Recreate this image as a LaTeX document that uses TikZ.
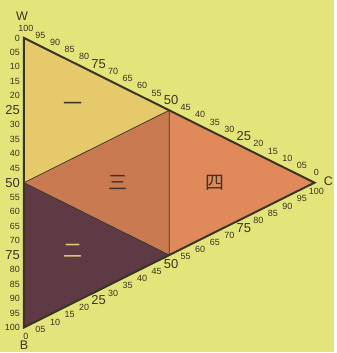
\documentclass[tikz,border=0pt]{standalone}
\usepackage{fontspec}
\setmainfont{Liberation Sans}
\newfontfamily\cjk{Noto Sans CJK SC}

\definecolor{bgyellow}{HTML}{E3E47A}
\definecolor{partone}{HTML}{E6C96A}
\definecolor{parttwo}{HTML}{5E3A45}
\definecolor{partthree}{HTML}{C97A50}
\definecolor{partfour}{HTML}{E08A5C}
\definecolor{linebrown}{HTML}{3B3324}
\definecolor{palelabel}{HTML}{E8C878}

\newcommand\ticklab[1]{%
  \ifnum#1=5 05\else
  \ifnum#1=25 {\fontsize{13}{13}\selectfont 25}\else
  \ifnum#1=50 {\fontsize{13}{13}\selectfont 50}\else
  \ifnum#1=75 {\fontsize{13}{13}\selectfont 75}\else
  #1\fi\fi\fi\fi}

\begin{document}
\begin{tikzpicture}[x=1pt,y=-1pt,
  edge/.style={draw=linebrown,line width=2pt},
  divide/.style={draw=linebrown,line width=0.7pt},
  tick/.style={font=\fontsize{9}{9}\selectfont,text=linebrown,inner sep=0pt},
  corner/.style={font=\fontsize{12.5}{12.5}\selectfont,text=linebrown},
  part/.style={font=\cjk\fontsize{19}{19}\selectfont,text=linebrown}]
  \fill[bgyellow] (0,0) rectangle (335,353);
  \coordinate (W) at (24,38);
  \coordinate (B) at (24,328);
  \coordinate (C) at (315,183);
  \coordinate (WB) at (24,183);
  \coordinate (WC) at (169.5,110.5);
  \coordinate (BC) at (169.5,255.5);
  \fill[partone] (W) -- (WC) -- (WB) -- cycle;
  \fill[partthree] (WB) -- (WC) -- (BC) -- cycle;
  \fill[partfour] (WC) -- (C) -- (BC) -- cycle;
  \fill[parttwo] (WB) -- (BC) -- (B) -- cycle;
  \draw[divide] (WB) -- (WC) -- (BC) -- cycle;
  \draw[edge] (W) -- (C) -- (B) -- cycle;
  \node (lw) at (22,16) [corner] {W};
  \node (lb) at (24,346) [corner] {B};
  \node (lc) at (329,182) [corner] {C};
  \foreach \v in {0,5,...,100} {
    \node (l\v) at (20,{38+2.9*\v}) [tick,anchor=east] {\ticklab{\v}};
    \node (t\v) at ({26+2.91*(100-\v)},{28+1.45*(100-\v)}) [tick] {\ticklab{\v}};
    \node (b\v) at ({26+2.91*\v},{337-1.45*\v}) [tick] {\ticklab{\v}};
  }
  \node (one) at (73,107) [part] {一};
  \node (three) at (118,183) [part] {三};
  \node (four) at (215,183) [part] {四};
  \node (two) at (73,251) [part,text=palelabel] {二};
\end{tikzpicture}
\end{document}
